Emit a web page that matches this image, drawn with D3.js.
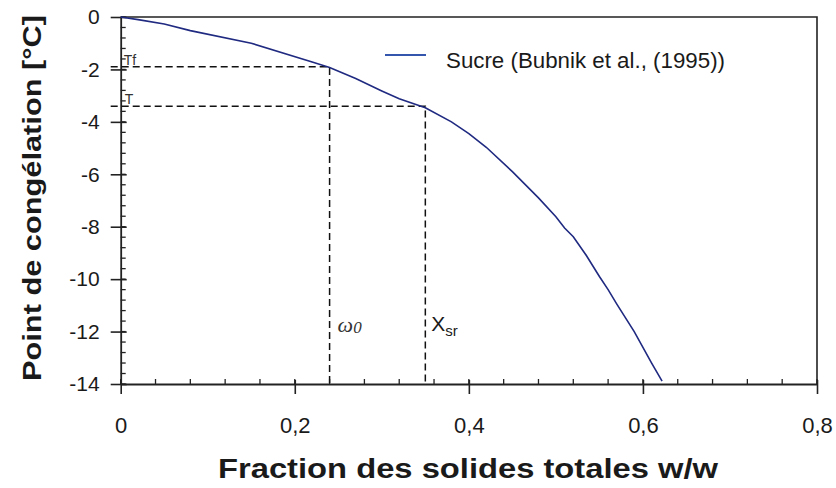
<!DOCTYPE html>
<html>
<head>
<meta charset="utf-8">
<script src="https://cdn.jsdelivr.net/npm/d3@7"></script>
<style>
  body { margin: 0; background: #fff; }
  svg { display: block; font-family: Arial, "Liberation Sans", sans-serif; }
</style>
</head>
<body>
<svg id="chart" width="836" height="488"></svg>
<script>
// Freezing point of sucrose solutions vs. total solids fraction
const solids = [0, 0.02, 0.05, 0.08, 0.15, 0.22, 0.24, 0.27, 0.30, 0.32, 0.35, 0.38, 0.40, 0.42, 0.45, 0.48, 0.50, 0.51, 0.52, 0.535, 0.55, 0.56, 0.57, 0.59, 0.61, 0.622];
const freezing = [0, -0.1, -0.27, -0.52, -1.0, -1.72, -1.93, -2.35, -2.82, -3.12, -3.46, -4.0, -4.45, -4.97, -5.9, -6.9, -7.62, -8.05, -8.38, -9.1, -9.9, -10.4, -10.95, -12.0, -13.2, -13.89];
const xTicks = [0, 0.2, 0.4, 0.6, 0.8];
const yTicks = [0, -2, -4, -6, -8, -10, -12, -14];
const seriesName = "Sucre (Bubnik et al., (1995))";
// reference points read on the curve
const omega0 = 0.24, Tf = -1.9;
const xsr = 0.35, Tsr = -3.4;

const svg = d3.select("#chart");
const pLeft = 120.7, pRight = 817, pTop = 17, pBottom = 384;
const x = d3.scaleLinear().domain([0, 0.8]).range([pLeft, pRight]);
const y = d3.scaleLinear().domain([0, -14]).range([pTop, pBottom]);
const axisColor = "#222";
const textColor = "#1a1a1a";

// frame (top and right edges)
svg.append("path")
  .attr("d", `M${pLeft},${pTop}H${pRight}V${pBottom}`)
  .attr("fill", "none").attr("stroke", axisColor).attr("stroke-width", 1.6);

// minor ticks (inside)
const xMinor = d3.range(0, 0.8001, 0.04);
svg.append("g").selectAll("line").data(xMinor).join("line")
  .attr("x1", d => x(d)).attr("x2", d => x(d))
  .attr("y1", pBottom).attr("y2", pBottom - 5)
  .attr("stroke", axisColor).attr("stroke-width", 1.3);
const yMinor = d3.range(0, -14.001, -0.4);
svg.append("g").selectAll("line").data(yMinor).join("line")
  .attr("x1", pLeft).attr("x2", pLeft + 5)
  .attr("y1", d => y(d)).attr("y2", d => y(d))
  .attr("stroke", axisColor).attr("stroke-width", 1.3);

// x axis
const xAxis = d3.axisBottom(x).tickValues(xTicks)
  .tickFormat(d => d === 0 ? "0" : d3.format(".1f")(d).replace(".", ","))
  .tickSizeInner(10).tickSizeOuter(0).tickPadding(23);
const gx = svg.append("g").attr("transform", `translate(0,${pBottom})`).call(xAxis);
gx.attr("font-size", 22).attr("font-family", null);
gx.select(".domain").attr("stroke", axisColor).attr("stroke-width", 1.8);
gx.selectAll(".tick line").attr("stroke", axisColor).attr("stroke-width", 1.6).attr("y1", -4);
gx.selectAll(".tick text").attr("fill", textColor);

// y axis
const yAxis = d3.axisLeft(y).tickValues(yTicks)
  .tickFormat(d => d3.format("d")(d).replace("−", "-"))
  .tickSizeInner(10).tickSizeOuter(0).tickPadding(11);
const gy = svg.append("g").attr("transform", `translate(${pLeft},0)`).call(yAxis);
gy.attr("font-size", 21).attr("font-family", null);
gy.select(".domain").attr("stroke", axisColor).attr("stroke-width", 1.8);
gy.selectAll(".tick line").attr("stroke", axisColor).attr("stroke-width", 1.6).attr("x1", 6);
gy.selectAll(".tick text").attr("fill", textColor);

// dashed guide lines
const dash = "7,4";
const guides = svg.append("g").attr("fill", "none").attr("stroke", "#111")
  .attr("stroke-width", 1.5).attr("stroke-dasharray", dash);
guides.append("path").attr("d", `M${x(0) - 10},${y(Tf)}H${x(omega0)}V${y(-14)}`);
guides.append("path").attr("d", `M${x(0) - 10},${y(Tsr)}H${x(xsr)}V${y(-14)}`);

// curve
const line = d3.line().x(d => x(d[0])).y(d => y(d[1]));
svg.append("path")
  .datum(d3.zip(solids, freezing))
  .attr("d", line)
  .attr("fill", "none").attr("stroke", "#1f2a80").attr("stroke-width", 1.6);

// small labels
svg.append("text").attr("x", x(0) + 3).attr("y", y(Tf) - 2)
  .attr("font-size", 14).attr("fill", "#333").text("Tf");
svg.append("text").attr("x", x(0) + 4).attr("y", y(Tsr) - 2)
  .attr("font-size", 14).attr("fill", "#333").text("T");

const om = svg.append("text").attr("x", x(omega0) + 8).attr("y", 332)
  .attr("font-family", "'Liberation Serif', 'DejaVu Serif', serif")
  .attr("font-style", "italic").attr("font-size", 22).attr("fill", "#333");
om.append("tspan").text("ω");
om.append("tspan").attr("font-size", 17).attr("dy", 1).text("0");

const xs = svg.append("text").attr("x", x(xsr) + 6).attr("y", 331)
  .attr("font-size", 21).attr("fill", textColor);
xs.append("tspan").text("X");
xs.append("tspan").attr("font-size", 15).attr("dy", 5).text("sr");

// legend
svg.append("line").attr("x1", 385).attr("x2", 426).attr("y1", 55).attr("y2", 55)
  .attr("stroke", "#3556ad").attr("stroke-width", 2);
svg.append("text").attr("x", 446).attr("y", 68).attr("font-size", 22)
  .attr("textLength", 279).attr("lengthAdjust", "spacingAndGlyphs")
  .attr("fill", textColor).text(seriesName);

// axis titles
svg.append("text").attr("x", 468).attr("y", 478)
  .attr("text-anchor", "middle").attr("font-size", 27).attr("font-weight", "bold")
  .attr("textLength", 500).attr("lengthAdjust", "spacingAndGlyphs")
  .attr("fill", textColor).text("Fraction des solides totales w/w");
svg.append("text").attr("transform", `translate(41,198) rotate(-90)`)
  .attr("text-anchor", "middle").attr("font-size", 26).attr("font-weight", "bold")
  .attr("textLength", 366).attr("lengthAdjust", "spacingAndGlyphs")
  .attr("fill", textColor).text("Point de congélation [°C]");
</script>
</body>
</html>
